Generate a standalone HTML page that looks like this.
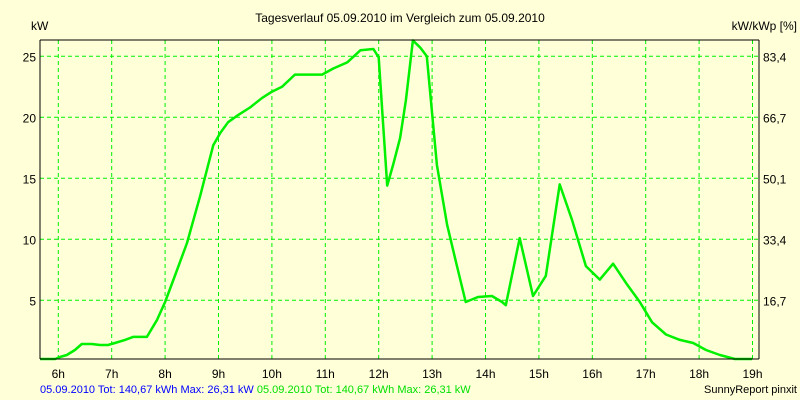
<!DOCTYPE html>
<html><head><meta charset="utf-8"><style>
body{margin:0;background:#FFFFD8;}
svg{display:block;font-family:"Liberation Sans",sans-serif;font-size:12px;}
</style></head><body>
<svg id="c" width="800" height="400">
<rect width="800" height="400" fill="#FFFFD8"/>
<text x="400" y="22" text-anchor="middle">Tagesverlauf 05.09.2010 im Vergleich zum 05.09.2010</text>
<text x="31" y="30">kW</text>
<text x="797" y="30" text-anchor="end">kW/kWp [%]</text>
<g id="grid"></g>
<g id="labels"></g>
<polyline id="series" fill="none" stroke="#00F000" stroke-width="2.5" stroke-linejoin="round"/>
<line x1="40" y1="40" x2="40" y2="359" stroke="#000"/>
<line x1="40" y1="359" x2="759" y2="359" stroke="#000"/>
<line x1="40" y1="40" x2="759" y2="40" stroke="#000"/>
<line x1="759" y1="40" x2="759" y2="359" stroke="#000"/>
<text x="40" y="393" fill="#0000FF" font-size="11">05.09.2010 Tot: 140,67 kWh Max: 26,31 kW <tspan fill="#00E000">05.09.2010 Tot: 140,67 kWh Max: 26,31 kW</tspan></text>
<text x="797" y="393" text-anchor="end" font-size="11">SunnyReport pinxit</text>
</svg>
<script>
const hours=[5.66,5.94,6.03,6.16,6.31,6.44,6.63,6.78,6.93,7.06,7.25,7.40,7.66,7.85,8.0,8.19,8.41,8.66,8.90,9.03,9.18,9.37,9.59,9.82,10.0,10.19,10.43,10.94,11.15,11.41,11.66,11.90,12.0,12.16,12.27,12.40,12.51,12.64,12.78,12.90,13.09,13.28,13.45,13.63,13.86,14.12,14.31,14.38,14.64,14.89,15.13,15.39,15.62,15.88,16.14,16.39,16.65,16.89,17.12,17.38,17.64,17.89,18.13,18.39,18.67,18.99];
const kw=[0.19,0.19,0.35,0.52,0.93,1.42,1.42,1.34,1.34,1.5,1.75,2.0,2.0,3.4,4.86,7.07,9.7,13.6,17.7,18.7,19.6,20.2,20.8,21.6,22.1,22.5,23.5,23.5,24.0,24.5,25.5,25.6,24.9,14.4,16.1,18.3,21.4,26.3,25.7,25.0,16.1,11.2,8.1,4.86,5.27,5.35,4.86,4.6,10.1,5.35,7.0,14.5,11.6,7.8,6.7,8.0,6.3,4.86,3.2,2.2,1.75,1.5,0.93,0.52,0.19,0.19];
const xTicks=[6,7,8,9,10,11,12,13,14,15,16,17,18,19];
const yTicks=[5,10,15,20,25];
const y2Labels=["16,7","33,4","50,1","66,7","83,4"];
const NS="http://www.w3.org/2000/svg";
const X=h=>58.3+(h-6)*53.4;
const Y=v=>361.3-v*12.2;
const grid=document.getElementById('grid'),lab=document.getElementById('labels');
function mk(tag,attrs,parent){const e=document.createElementNS(NS,tag);for(const k in attrs)e.setAttribute(k,attrs[k]);parent.appendChild(e);return e;}
xTicks.forEach(h=>{
  const l=mk('line',{x1:X(h),x2:X(h),y1:40,y2:359,stroke:'#00F000','stroke-dasharray':'4,3'},grid);
  
  
  const t=mk('text',{x:X(h),y:378,'text-anchor':'middle'},lab);t.textContent=h+'h';
  
  
});
yTicks.forEach((v,i)=>{
  const l=mk('line',{x1:40,x2:759,y1:Y(v),y2:Y(v),stroke:'#00F000','stroke-dasharray':'4,3'},grid);
  
  
  const t=mk('text',{x:36,y:Y(v)+5,'text-anchor':'end'},lab);t.textContent=v;
  
  
  const t2=mk('text',{x:763,y:Y(v)+5},lab);t2.textContent=y2Labels[i];
  
  
});
document.getElementById('series').setAttribute('points',hours.map((h,i)=>X(h).toFixed(1)+','+Y(kw[i]).toFixed(1)).join(' '));
</script>
</body></html>
